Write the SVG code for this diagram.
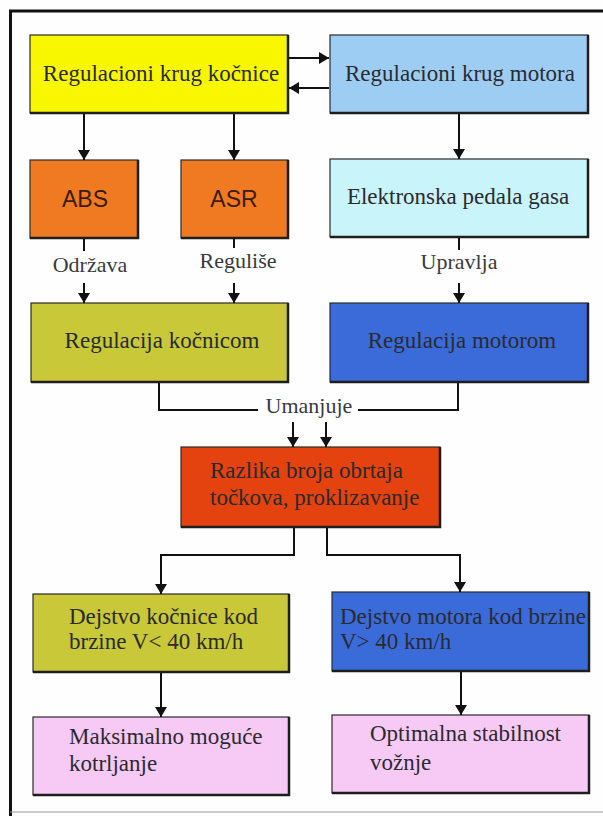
<svg xmlns="http://www.w3.org/2000/svg" width="603" height="816" viewBox="0 0 603 816">
<style>
.box{stroke:#2a2a2a;stroke-width:1.2}
.sh{fill:none;stroke:#1e1e1e;stroke-width:2.5}
.t{font-family:"Liberation Serif","Times New Roman",serif;font-size:23px;fill:#2a2a30}
.lab{font-family:"Liberation Serif","Times New Roman",serif;font-size:22px;fill:#3a3a3a}
.s{font-family:"Liberation Sans",Arial,sans-serif;font-size:23px;fill:#3a1c08;text-anchor:middle}
.c{text-anchor:middle}
.ln{fill:none;stroke:#111;stroke-width:2}
</style>
<defs>
<marker id="ah" viewBox="0 0 10 12" refX="10" refY="6" markerWidth="10" markerHeight="12" markerUnits="userSpaceOnUse" orient="auto">
<path d="M0,0 L10,6 L0,12 Z" fill="#111"/>
</marker>
</defs>
<rect width="603" height="816" fill="#fefefe"/>
<g id="frame">
<line x1="9" y1="11" x2="603" y2="11" stroke="#111" stroke-width="3"/>
<line x1="10.5" y1="10" x2="10.5" y2="816" stroke="#111" stroke-width="3"/>
<line x1="10" y1="812" x2="603" y2="812" stroke="#999" stroke-width="1.2"/>
</g>
<g id="n1"><rect class="box" x="30" y="35" width="258" height="78" fill="#f9f700"/><path class="sh" d="M30,113 H288 V35"/><text class="t c" x="161" y="81">Regulacioni krug kočnice</text></g>
<g id="n2"><rect class="box" x="330" y="35" width="258" height="78" fill="#9dcdf3"/><path class="sh" d="M330,113 H588 V35"/><text class="t c" x="460" y="81">Regulacioni krug motora</text></g>
<g id="n3"><rect class="box" x="30" y="160" width="108" height="78" fill="#f07a22"/><path class="sh" d="M30,238 H138 V160"/><text class="s" x="85" y="207">ABS</text></g>
<g id="n4"><rect class="box" x="181" y="160" width="107" height="78" fill="#f07a22"/><path class="sh" d="M181,238 H288 V160"/><text class="s" x="234" y="207">ASR</text></g>
<g id="n5"><rect class="box" x="330" y="159" width="258" height="78" fill="#c9f4fa"/><path class="sh" d="M330,237 H588 V159"/><text class="t c" x="458" y="204">Elektronska pedala gasa</text></g>
<g id="n6"><rect class="box" x="31" y="303" width="257" height="79" fill="#c8c838"/><path class="sh" d="M31,382 H288 V303"/><text class="t c" x="162" y="348">Regulacija kočnicom</text></g>
<g id="n7"><rect class="box" x="330" y="303" width="258" height="79" fill="#3a6bd9"/><path class="sh" d="M330,382 H588 V303"/><text class="t c" x="462" y="348" fill="#14224a">Regulacija motorom</text></g>
<g id="n8"><rect class="box" x="181" y="447" width="259" height="80" fill="#e4420e"/><path class="sh" d="M181,527 H440 V447"/><text class="t" x="210" y="478" fill="#3a1208">Razlika broja obrtaja</text><text class="t" x="210" y="505" fill="#3a1208">točkova, proklizavanje</text></g>
<g id="n9"><rect class="box" x="33" y="594" width="256" height="78" fill="#c8c838"/><path class="sh" d="M33,672 H289 V594"/><text class="t" x="69" y="624">Dejstvo kočnice kod</text><text class="t" x="69" y="649">brzine V&lt; 40 km/h</text></g>
<g id="n10"><rect class="box" x="332" y="592" width="257" height="79" fill="#3a6bd9"/><path class="sh" d="M332,671 H589 V592"/><text class="t" x="340" y="624" fill="#14224a">Dejstvo motora kod brzine</text><text class="t" x="340" y="649" fill="#14224a">V&gt; 40 km/h</text></g>
<g id="n11"><rect class="box" x="33" y="717" width="256" height="78" fill="#f7c9f5"/><path class="sh" d="M33,795 H289 V717"/><text class="t" x="69" y="744" fill="#3a2040">Maksimalno moguće</text><text class="t" x="69" y="771" fill="#3a2040">kotrljanje</text></g>
<g id="n12"><rect class="box" x="332" y="715" width="257" height="78" fill="#f7c9f5"/><path class="sh" d="M332,793 H589 V715"/><text class="t" x="370" y="741" fill="#3a2040">Optimalna stabilnost</text><text class="t" x="370" y="770" fill="#3a2040">vožnje</text></g>
<g id="connectors">
<line class="ln" x1="289" y1="58" x2="329" y2="58" marker-end="url(#ah)"/>
<line class="ln" x1="329" y1="88" x2="289" y2="88" marker-end="url(#ah)"/>
<line class="ln" x1="84" y1="114" x2="84" y2="160" marker-end="url(#ah)"/>
<line class="ln" x1="234" y1="114" x2="234" y2="160" marker-end="url(#ah)"/>
<line class="ln" x1="459" y1="114" x2="459" y2="159" marker-end="url(#ah)"/>
<line class="ln" x1="84" y1="239" x2="84" y2="251"/>
<line class="ln" x1="84" y1="283" x2="84" y2="303" marker-end="url(#ah)"/>
<line class="ln" x1="234" y1="239" x2="234" y2="248"/>
<line class="ln" x1="234" y1="283" x2="234" y2="303" marker-end="url(#ah)"/>
<line class="ln" x1="459" y1="238" x2="459" y2="250"/>
<line class="ln" x1="459" y1="283" x2="459" y2="303" marker-end="url(#ah)"/>
<path class="ln" d="M159,383 V410 H258"/>
<path class="ln" d="M358,410 H458 V383"/>
<line class="ln" x1="293" y1="422" x2="293" y2="447" marker-end="url(#ah)"/>
<line class="ln" x1="326" y1="422" x2="326" y2="447" marker-end="url(#ah)"/>
<path class="ln" d="M294,528 V555 H161 V594" marker-end="url(#ah)"/>
<path class="ln" d="M327,528 V555 H460 V592" marker-end="url(#ah)"/>
<line class="ln" x1="161" y1="673" x2="161" y2="717" marker-end="url(#ah)"/>
<line class="ln" x1="461" y1="672" x2="461" y2="715" marker-end="url(#ah)"/>
<text class="lab c" x="90" y="272">Održava</text>
<text class="lab c" x="238" y="268">Reguliše</text>
<text class="lab c" x="459" y="269">Upravlja</text>
<text class="lab c" x="309" y="413">Umanjuje</text>
</g>
</svg>
